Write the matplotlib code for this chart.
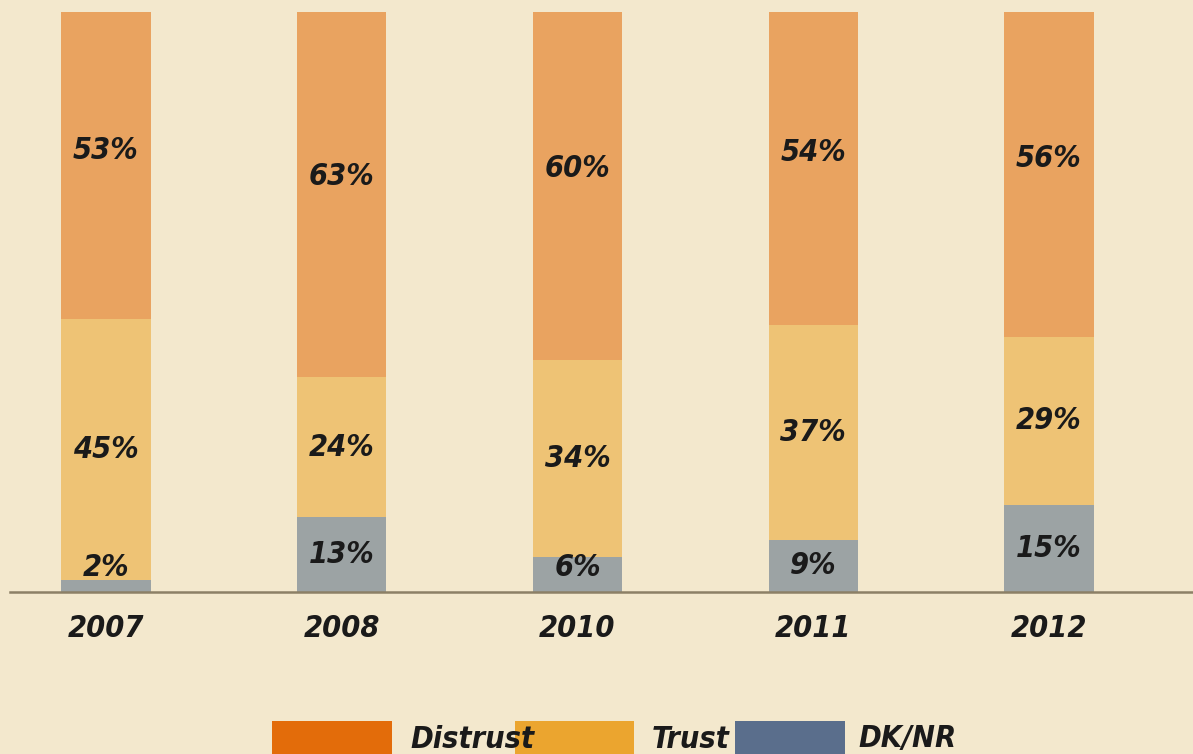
import matplotlib
matplotlib.use("Agg")
import matplotlib.pyplot as plt
from matplotlib.patches import Rectangle
from matplotlib import font_manager
from matplotlib.font_manager import FontProperties

years = ["2007", "2008", "2010", "2011", "2012"]
dk_nr = [2, 13, 6, 9, 15]
trust = [45, 24, 34, 37, 29]
distrust = [53, 63, 60, 54, 56]

legend_labels = ["Distrust", "Trust", "DK/NR"]
legend_colors = ["#E36C0A", "#EBA52F", "#5A6E8C"]
bar_colors = {"Distrust": "#E9A360", "Trust": "#EEC375", "DK/NR": "#9CA3A4"}

BG = "#F3E8CD"


def pick_font():
    pref = ["Noto Sans", "Open Sans", "Roboto", "DejaVu Sans"]
    best = None
    for f in font_manager.fontManager.ttflist:
        if f.name not in pref:
            continue
        fn = f.fname.lower()
        st = str(f.stretch).lower()
        extra = "extracondensed" in fn or "extra" in st
        if "ultra" in st or "ultracondensed" in fn:
            continue
        cond = "condensed" in st or "condensed" in fn or extra
        if not cond:
            continue
        ital = f.style in ("italic", "oblique")
        try:
            wt = int(f.weight)
        except Exception:
            wt = {"bold": 700, "semibold": 600, "medium": 500, "normal": 400}.get(str(f.weight), 400)
        score = (0 if ital else 100) + (0 if extra else 20) + abs(wt - 600) / 10 + pref.index(f.name) * 5
        if best is None or score < best[0]:
            best = (score, f.fname)
    if best:
        return FontProperties(fname=best[1])
    return FontProperties(family="DejaVu Sans", style="italic", weight="bold")


FP = pick_font()
TXT = "#1a1a1a"
FS = 22

fig = plt.figure(figsize=(11.93, 7.54), dpi=100, facecolor=BG)
ax = fig.add_axes([10 / 1193, (754 - 592) / 754, 1 - 10 / 1193, (592 - 12) / 754])
ax.set_facecolor(BG)

x = list(range(len(years)))
w = 0.378
bottom_trust = dk_nr
bottom_dist = [a + b for a, b in zip(dk_nr, trust)]
ax.bar(x, dk_nr, width=w, color=bar_colors["DK/NR"], linewidth=0)
ax.bar(x, trust, width=w, bottom=bottom_trust, color=bar_colors["Trust"], linewidth=0)
ax.bar(x, distrust, width=w, bottom=bottom_dist, color=bar_colors["Distrust"], linewidth=0)

for i in x:
    ax.text(i, bottom_dist[i] + distrust[i] * 0.55, f"{distrust[i]}%", ha="center", va="center",
            fontproperties=FP, fontsize=FS, color=TXT)
    ax.text(i, bottom_trust[i] + trust[i] * 0.5, f"{trust[i]}%", ha="center", va="center",
            fontproperties=FP, fontsize=FS, color=TXT)
    ax.text(i, max(dk_nr[i] * 0.5, 4.2), f"{dk_nr[i]}%", ha="center", va="center",
            fontproperties=FP, fontsize=FS, color=TXT)

ax.set_xlim(-0.407, 4.611)
ax.set_ylim(0, 100)
for s in ["top", "right", "left"]:
    ax.spines[s].set_visible(False)
ax.spines["bottom"].set_color("#8C8066")
ax.spines["bottom"].set_linewidth(1.8)
ax.set_yticks([])
ax.set_xticks(x)
ax.set_xticklabels(years)
for t in ax.get_xticklabels():
    t.set_fontproperties(FP)
    t.set_fontsize(FS)
    t.set_color(TXT)
ax.tick_params(axis="x", length=0, pad=16)

# legend
rects = [(272, 392), (515, 634), (735, 845)]
text_x = [410, 652, 858]
for (x0, x1), tx, lab, col in zip(rects, text_x, legend_labels, legend_colors):
    fig.patches.append(Rectangle((x0 / 1193, 0), (x1 - x0) / 1193, (754 - 721) / 754,
                                 transform=fig.transFigure, color=col, linewidth=0))
    fig.text(tx / 1193, (754 - 739) / 754, lab, ha="left", va="center",
             fontproperties=FP, fontsize=FS, color=TXT)

fig.savefig("out.png", dpi=100, facecolor=BG)
